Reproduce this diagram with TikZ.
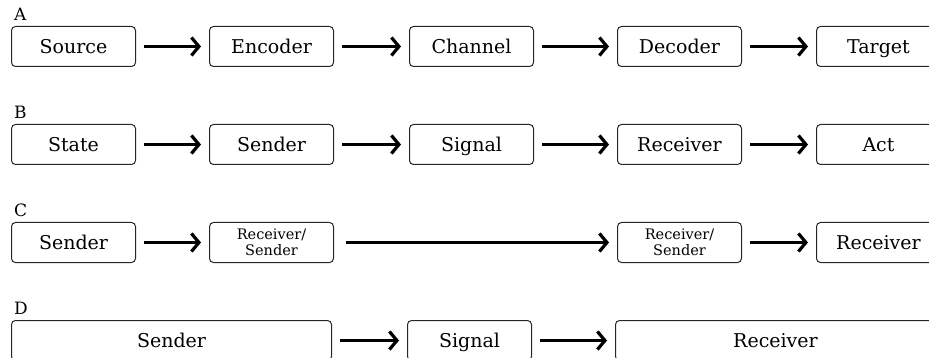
\documentclass[tikz,border=0pt]{standalone}
\usepackage{fontspec}
\setmainfont{DejaVu Serif}
\usetikzlibrary{arrows.meta, positioning}

\begin{document}
\begin{tikzpicture}[
    x=1pt, y=-1pt,
    node distance=57pt and 74pt,
    box/.style={rectangle, rounded corners=4pt, draw=black!85, line width=1pt, minimum width=124pt, minimum height=40pt, inner sep=2pt, text height=16pt, text depth=2pt, font=\fontsize{19}{22}\selectfont},
    smallbox/.style={box, text height=, text depth=, font=\fontsize{14.5}{15.5}\selectfont, align=center},
    wide/.style={box, minimum width=320pt},
    tag/.style={inner sep=0pt, font=\fontsize{17}{19}\selectfont},
    arrow/.style={-{Straight Barb[length=7.5pt, width=18pt, line width=3.2pt]}, line width=3.2pt, shorten <=8pt, shorten >=8pt}
]
\clip (0,0) rectangle (929,358);

% Row A
\node[box] (source) at (73.5,46.5) {Source};
\node[box, right=73pt of source] (encoder) {Encoder};
\node[box, right=75pt of encoder] (channel) {Channel};
\node[box, right=83pt of channel] (decoder) {Decoder};
\node[box, right=74pt of decoder] (target) {Target};
\node[tag, above right=5pt and 3pt of source.north west] (tagA) {A};

% Row B
\node[box, below=of source] (state) {State};
\node[box, below=of encoder] (sender) {Sender};
\node[box, below=of channel] (signal) {Signal};
\node[box, below=of decoder] (receiver) {Receiver};
\node[box, below=of target] (act) {Act};
\node[tag, above right=5pt and 3pt of state.north west] (tagB) {B};

% Row C
\node[box, below=of state] (csender) {Sender};
\node[smallbox, below=of sender] (relayA) {Receiver/\\Sender};
\node[smallbox, below=of receiver] (relayB) {Receiver/\\Sender};
\node[box, below=of act] (creceiver) {Receiver};
\node[tag, above right=5pt and 3pt of csender.north west] (tagC) {C};

% Row D
\node[wide, below=57pt of csender.south west, anchor=north west] (dsender) {Sender};
\node[box, right=75pt of dsender] (dsignal) {Signal};
\node[wide, right=83pt of dsignal] (dreceiver) {Receiver};
\node[tag, above right=5pt and 3pt of dsender.north west] (tagD) {D};

% Arrows
\draw[arrow] (source) -- (encoder);
\draw[arrow] (encoder) -- (channel);
\draw[arrow] (channel) -- (decoder);
\draw[arrow] (decoder) -- (target);

\draw[arrow] (state) -- (sender);
\draw[arrow] (sender) -- (signal);
\draw[arrow] (signal) -- (receiver);
\draw[arrow] (receiver) -- (act);

\draw[arrow] (csender) -- (relayA);
\draw[arrow, shorten <=12pt] (relayA) -- (relayB);
\draw[arrow] (relayB) -- (creceiver);

\draw[arrow] (dsender) -- (dsignal);
\draw[arrow] (dsignal) -- (dreceiver);

\end{tikzpicture}
\end{document}
